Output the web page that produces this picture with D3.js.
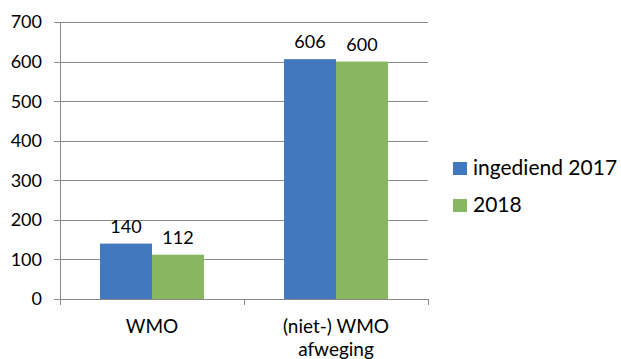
<!DOCTYPE html>
<html>
<head>
<meta charset="utf-8">
<script src="https://cdn.jsdelivr.net/npm/d3@7"></script>
<style>
  html, body { margin: 0; padding: 0; background: #fff; }
  svg { display: block; font-family: Lato, "Open Sans", sans-serif; }
</style>
</head>
<body>
<svg id="chart" width="621" height="359"></svg>
<script>
// Aanvragen per categorie
const categories = [["WMO"], ["(niet-) WMO", "afweging"]];
const seriesNames = ["ingediend 2017", "2018"];
const values2017 = [140, 606];
const values2018 = [112, 600];
const yTicks = [0, 100, 200, 300, 400, 500, 600, 700];
const colors = ["#4178BE", "#89B661"];

const svg = d3.select("#chart");
const margin = { left: 60, right: 193, top: 22, bottom: 60 };
const W = 621, H = 359;

const x = d3.scaleBand()
  .domain(d3.range(categories.length))
  .range([margin.left, W - margin.right])
  .paddingInner(0).paddingOuter(0);

const inner = d3.scaleBand()
  .domain(d3.range(seriesNames.length))
  .range([0, x.bandwidth()])
  .paddingInner(0)
  .paddingOuter(0.77);

const y = d3.scaleLinear().domain([0, 700]).range([299, margin.top]);

// gridlines
svg.append("g")
  .selectAll("line")
  .data(yTicks)
  .join("line")
  .attr("x1", margin.left - 6)
  .attr("x2", W - margin.right)
  .attr("y1", d => Math.round(y(d)) + 0.5)
  .attr("y2", d => Math.round(y(d)) + 0.5)
  .attr("stroke", "#898989")
  .attr("stroke-width", 1);

// y axis labels
svg.append("g")
  .selectAll("text")
  .data(yTicks)
  .join("text")
  .attr("x", 42)
  .attr("y", d => y(d))
  .attr("dy", "0.36em")
  .attr("text-anchor", "end")
  .attr("font-size", 18)
  .attr("fill", "#000")
  .text(d => d);

// y axis line
svg.append("line")
  .attr("x1", margin.left + 0.5).attr("x2", margin.left + 0.5)
  .attr("y1", y(700)).attr("y2", y(0) + 6)
  .attr("stroke", "#898989");

// category tick marks
const boundaries = d3.range(categories.length + 1).map(i =>
  i < categories.length ? x(i) : x(i - 1) + x.bandwidth());
svg.append("g")
  .selectAll("line")
  .data(boundaries.slice(1))
  .join("line")
  .attr("x1", d => Math.round(d) + 0.5).attr("x2", d => Math.round(d) + 0.5)
  .attr("y1", y(0)).attr("y2", y(0) + 6)
  .attr("stroke", "#898989");

// bars
const series = [values2017, values2018];
const groups = svg.append("g")
  .selectAll("g")
  .data(categories)
  .join("g")
  .attr("transform", (d, i) => `translate(${x(i)},0)`);

groups.each(function (cat, ci) {
  const g = d3.select(this);
  series.forEach((vals, si) => {
    const v = vals[ci];
    g.append("rect")
      .attr("x", inner(si))
      .attr("width", inner.bandwidth())
      .attr("y", y(v))
      .attr("height", y(0) - y(v))
      .attr("fill", colors[si]);
    g.append("text")
      .attr("x", inner(si) + inner.bandwidth() / 2)
      .attr("y", y(v) - 11)
      .attr("text-anchor", "middle")
      .attr("font-size", 18)
      .attr("fill", "#000")
      .text(v);
  });
  // category label
  const t = g.append("text")
    .attr("x", x.bandwidth() / 2)
    .attr("y", 333)
    .attr("text-anchor", "middle")
    .attr("font-size", 19)
    .attr("fill", "#000");
  cat.forEach((line, li) => {
    t.append("tspan")
      .attr("x", x.bandwidth() / 2)
      .attr("dy", li === 0 ? 0 : 23)
      .text(line);
  });
});

// legend
const legend = svg.append("g")
  .selectAll("g")
  .data(seriesNames)
  .join("g")
  .attr("transform", (d, i) => `translate(453,${162 + i * 37})`);
legend.append("rect")
  .attr("width", 14).attr("height", 13)
  .attr("fill", (d, i) => colors[i]);
legend.append("text")
  .attr("x", 20)
  .attr("y", 13)
  .attr("font-size", 21)
  .attr("fill", "#000")
  .text(d => d);
</script>
</body>
</html>
